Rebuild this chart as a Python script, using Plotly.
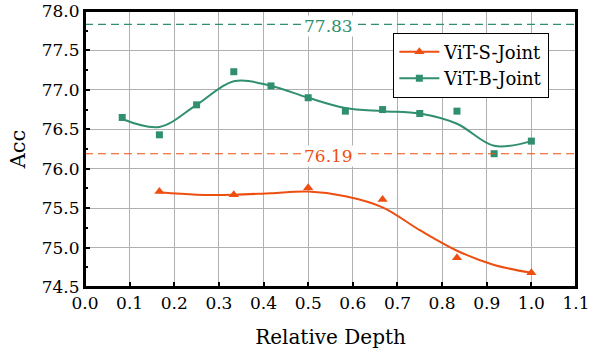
import plotly.graph_objects as go

# ---- data ----
x_b = [1/12, 2/12, 3/12, 4/12, 5/12, 6/12, 7/12, 8/12, 9/12, 10/12, 11/12, 12/12]
acc_b = [76.65, 76.43, 76.81, 77.23, 77.05, 76.90, 76.73, 76.75, 76.70, 76.73, 76.19, 76.35]
fit_b = [76.63, 76.53, 76.81, 77.11, 77.05, 76.90, 76.77, 76.73, 76.70, 76.57, 76.29, 76.35]

x_s = [2/12, 4/12, 6/12, 8/12, 10/12, 12/12]
acc_s = [75.71, 75.67, 75.76, 75.61, 74.87, 74.68]
x_s_fit = [2/12, 3/12, 4/12, 5/12, 6/12, 7/12, 8/12, 9/12, 10/12, 11/12, 12/12]
fit_s = [75.70, 75.67, 75.67, 75.69, 75.71, 75.65, 75.51, 75.22, 74.96, 74.78, 74.68]

ref_b = 77.83
ref_s = 76.19
series_names = ["ViT-S-Joint", "ViT-B-Joint"]

C_S = "#EE4E10"
C_B = "#2F8F6E"
FONT = "DejaVu Serif"

fig = go.Figure()

# fitted curves
fig.add_trace(go.Scatter(x=x_s_fit, y=fit_s, mode="lines", line=dict(color=C_S, width=2, shape="spline", smoothing=1.0),
                         showlegend=False, hoverinfo="skip"))
fig.add_trace(go.Scatter(x=x_b, y=fit_b, mode="lines", line=dict(color=C_B, width=2, shape="spline", smoothing=1.0),
                         showlegend=False, hoverinfo="skip"))
# markers
fig.add_trace(go.Scatter(x=x_s, y=acc_s, mode="markers", marker=dict(symbol="triangle-up", color=C_S, size=9),
                         showlegend=False))
fig.add_trace(go.Scatter(x=x_b, y=acc_b, mode="markers", marker=dict(symbol="square", color=C_B, size=7),
                         showlegend=False))
# legend entries
fig.add_trace(go.Scatter(x=[None], y=[None], mode="lines+markers", name=series_names[0],
                         line=dict(color=C_S, width=2), marker=dict(symbol="triangle-up", color=C_S, size=9)))
fig.add_trace(go.Scatter(x=[None], y=[None], mode="lines+markers", name=series_names[1],
                         line=dict(color=C_B, width=2), marker=dict(symbol="square", color=C_B, size=7)))

for val, col in [(ref_b, C_B), (ref_s, C_S)]:
    fig.add_shape(type="line", xref="paper", x0=0, x1=1, yref="y", y0=val, y1=val,
                  line=dict(color=col, width=1.2, dash="8px,5px"), layer="above")
    fig.add_annotation(x=0.546, y=val, xref="x", yref="y", text=f"{val:.2f}", showarrow=False,
                       font=dict(family=FONT, size=17, color=col), bgcolor="white", yshift=-2,
                       borderpad=0)

# plot frame
fig.add_shape(type="rect", xref="paper", yref="paper", x0=0, x1=1, y0=0, y1=1,
              line=dict(color="black", width=2), layer="above")

fig.update_layout(
    width=597, height=358,
    margin=dict(l=85, r=21, t=11, b=71),
    plot_bgcolor="white", paper_bgcolor="white",
    font=dict(family=FONT, size=17, color="black"),
    legend=dict(x=0.628, y=0.922, xanchor="left", yanchor="top", bgcolor="white",
                bordercolor="black", borderwidth=1, font=dict(family=FONT, size=18),
                itemwidth=40, tracegroupgap=0),
)
fig.update_xaxes(
    range=[0, 1.1], dtick=0.1, tickformat=".1f", automargin=False, ticklabeloverflow="allow",
    showline=True, linecolor="black", linewidth=2, mirror=True,
    ticks="inside", ticklen=5, tickwidth=2, tickcolor="black",
    showgrid=True, gridcolor="#B0B0B0", gridwidth=1, zeroline=False,
    tickfont=dict(family=FONT, size=17),
    title=dict(text="Relative Depth", font=dict(family=FONT, size=20), standoff=18),
)
fig.update_yaxes(
    range=[74.5, 78.0], dtick=0.5, tickformat=".1f", automargin=False, ticklabeloverflow="allow",
    showline=True, linecolor="black", linewidth=2, mirror=True,
    ticks="inside", ticklen=5, tickwidth=2, tickcolor="black",
    minor=dict(dtick=0.25, ticks="inside", ticklen=3, tickwidth=1.5, tickcolor="black", showgrid=False),
    showgrid=True, gridcolor="#B0B0B0", gridwidth=1, zeroline=False,
    tickfont=dict(family=FONT, size=17),
    title=dict(text="Acc", font=dict(family=FONT, size=21), standoff=10),
)

fig.write_html("out.html")
